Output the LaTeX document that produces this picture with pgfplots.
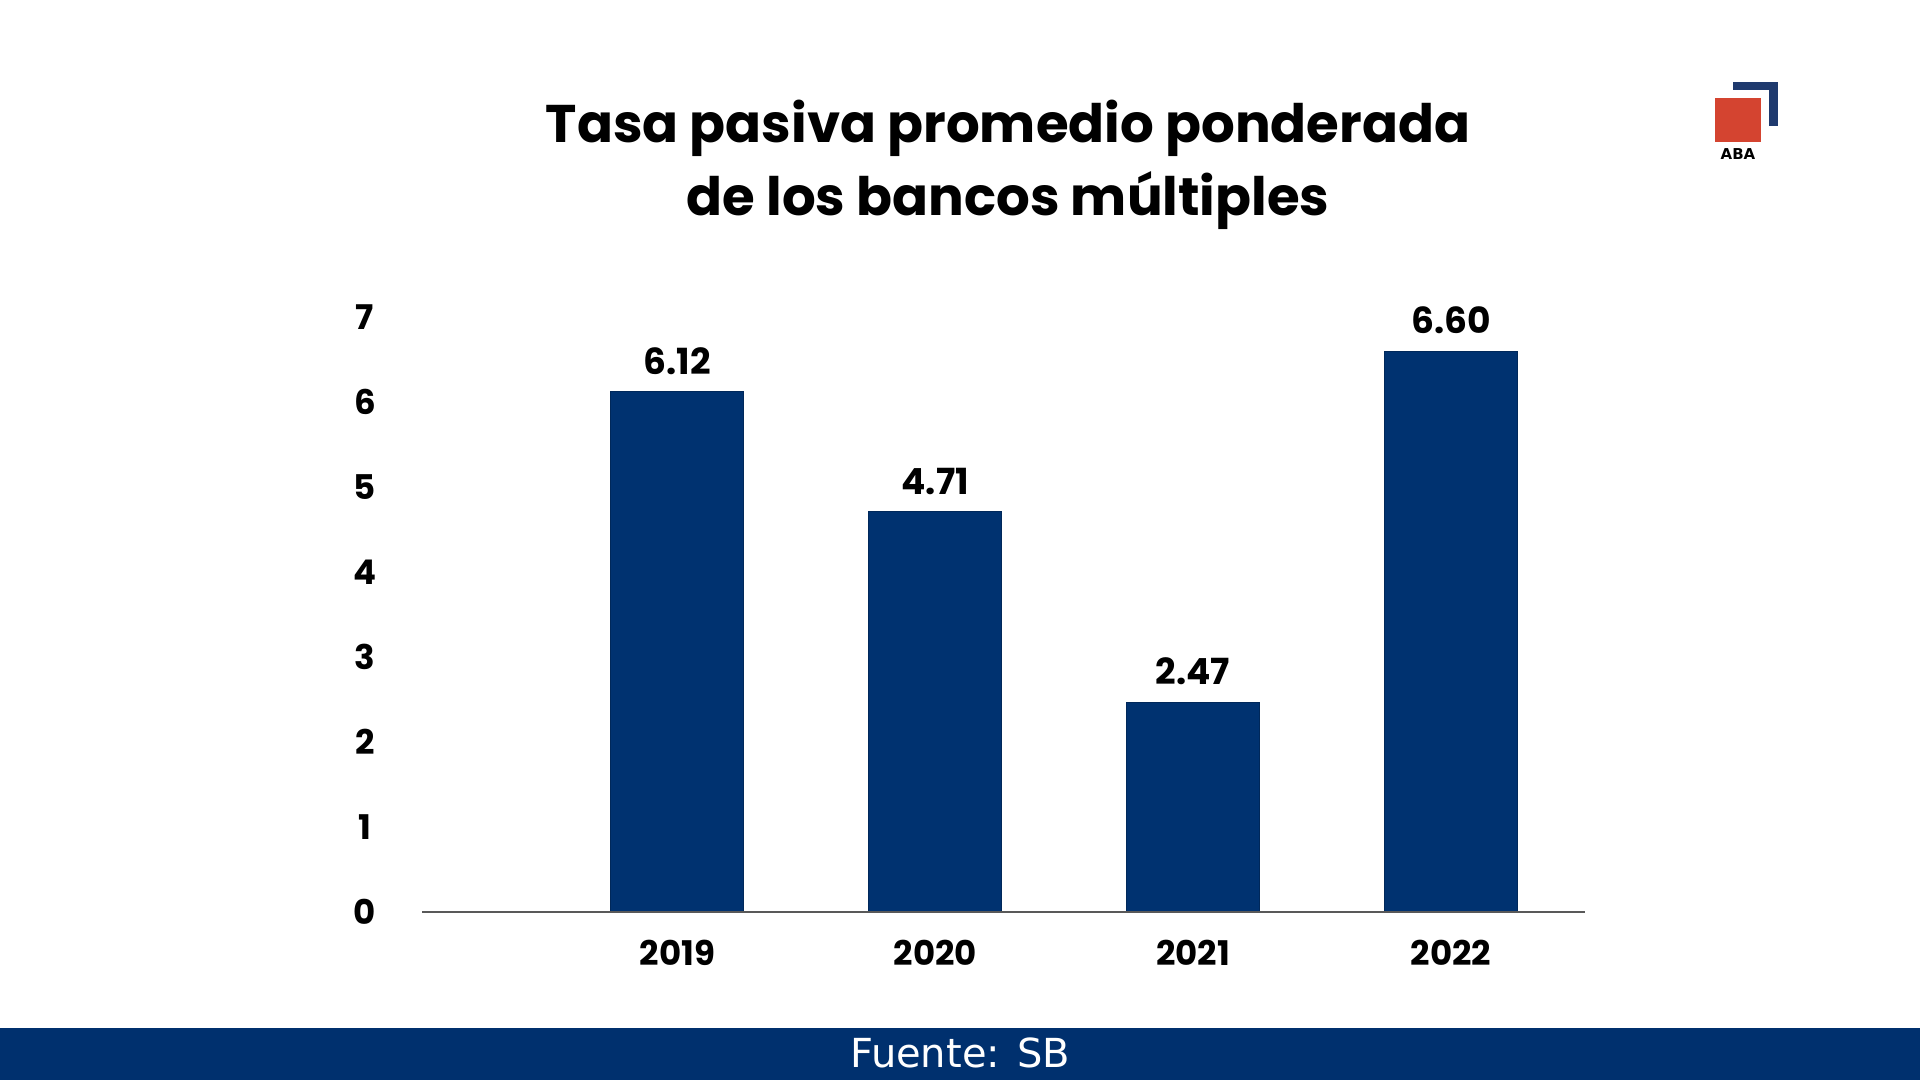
\documentclass[border=0pt]{standalone}
\usepackage{fontspec}
\setmainfont{Poppins}
\newfontfamily\footfont{DejaVu Sans}
\usepackage{pgfplots}
\pgfplotsset{compat=1.18}
\definecolor{navy}{HTML}{003270}
\definecolor{foot}{HTML}{00306E}
\definecolor{logored}{HTML}{D44430}
\definecolor{logonavy}{HTML}{1F3A6E}
\begin{document}
\begin{tikzpicture}
\useasboundingbox (0pt,0pt) rectangle (960pt,540pt);
\fill[white] (0pt,0pt) rectangle (960pt,540pt);
% footer
\fill[foot] (0pt,0pt) rectangle (960pt,26pt);
\node[text=white,font=\footfont\fontsize{20}{24}\selectfont] at (480pt,13.5pt) {Fuente: SB};
% title
\node[anchor=base,font=\bfseries\fontsize{26.5}{32}\selectfont] at (504pt,468.5pt) {Tasa pasiva promedio ponderada};
\node[anchor=base,font=\bfseries\fontsize{26.5}{32}\selectfont] at (504pt,432pt) {de los bancos múltiples};
% logo
\fill[logonavy] (866.5pt,499pt) rectangle (889pt,495pt);
\fill[logonavy] (884.5pt,499pt) rectangle (889pt,477pt);
\fill[logored] (857.5pt,491pt) rectangle (880.5pt,469pt);
\node[font=\footfont\bfseries\fontsize{7.5}{9}\selectfont] at (869pt,463pt) {ABA};
\begin{axis}[
  at={(211pt,84pt)}, anchor=south west,
  scale only axis,
  width=581.5pt, height=310.25pt,
  xmin=-0.99, xmax=3.52,
  ymin=0, ymax=7.3,
  axis line style={draw=none},
  ytick={0,1,2,3,4,5,6,7},
  xtick={0,1,2,3},
  xticklabels={2019,2020,2021,2022},
  major tick length=0pt,
  tick style={draw=none},
  /pgf/number format/assume math mode=true,
  xticklabel style={anchor=center, yshift=-20.5pt, font=\bfseries\fontsize{17}{20}\selectfont},
  yticklabel style={anchor=center, xshift=-28.5pt, font=\bfseries\fontsize{17}{20}\selectfont},
  nodes near coords={\pgfmathprintnumber[fixed,fixed zerofill,precision=2]{\pgfplotspointmeta}},
  nodes near coords style={anchor=south, yshift=5pt, font=\bfseries\fontsize{18}{22}\selectfont, /pgf/number format/assume math mode=true},
  clip=false,
]
\addplot[ybar, bar width=66.5pt, fill=navy, draw=navy!80!black, line width=0.4pt]
  coordinates {(0,6.12) (1,4.71) (2,2.47) (3,6.60)};
\draw[black!65, line width=1pt] (rel axis cs:0,0) -- (rel axis cs:1,0);
\end{axis}
\end{tikzpicture}
\end{document}
